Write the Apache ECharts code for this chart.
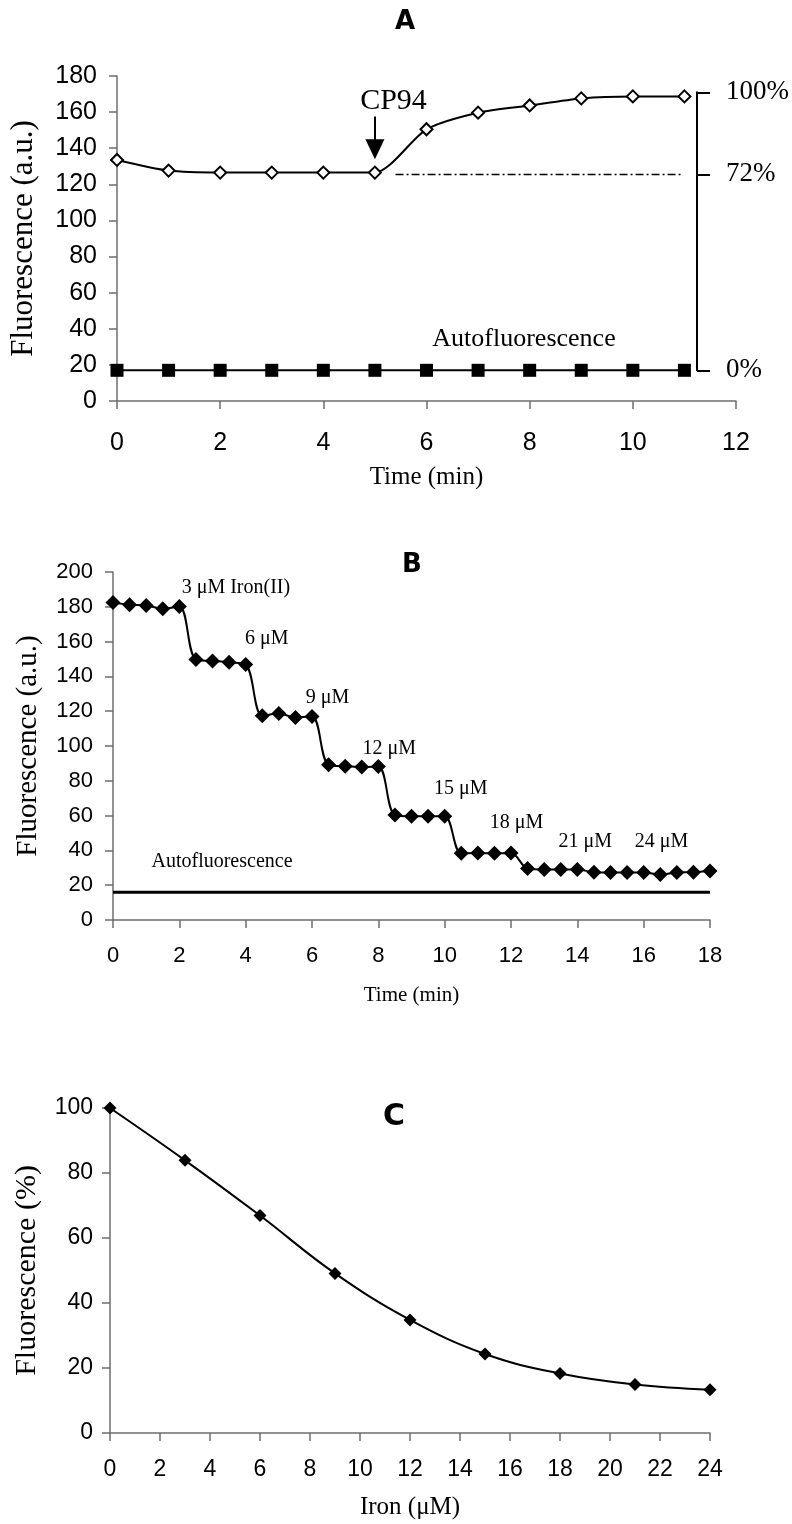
<!DOCTYPE html>
<html>
<head>
<meta charset="utf-8">
<script src="https://cdn.jsdelivr.net/npm/echarts@6/dist/echarts.min.js"></script>
<style>
html,body{margin:0;padding:0;background:#fff;}
#c{width:792px;height:1524px;}
</style>
</head>
<body>
<div id="c"></div>
<script>
// ---------- Panel A ----------
const A_time = [0, 1, 2, 3, 4, 5, 6, 7, 8, 9, 10, 11];
const A_probe = [133.5, 127.6, 126.5, 126.5, 126.5, 126.5, 150.5, 159.7, 163.7, 167.6, 168.7, 168.7];
const A_auto = [17, 17, 17, 17, 17, 17, 17, 17, 17, 17, 17, 17];
const A_dashX = [5.4, 10.95];
const A_dashY = 125.5;
const A_bracketValues = [17, 125.5, 171];
const A_bracketLabels = ['0%', '72%', '100%'];
const A_arrow = { x: 5, from: 157.6, to: 139.5 };
const A_notes = [
  { x: 5.36, y: 166, text: 'CP94', size: 30 },
  { x: 7.89, y: 34, text: 'Autofluorescence', size: 26 }
];
const A_xTicks = [0, 12, 2];
const A_yTicks = [0, 180, 20];

// ---------- Panel B ----------
const B_time = [0, 0.5, 1, 1.5, 2, 2.5, 3, 3.5, 4, 4.5, 5, 5.5, 6, 6.5, 7, 7.5, 8, 8.5, 9, 9.5, 10,
  10.5, 11, 11.5, 12, 12.5, 13, 13.5, 14, 14.5, 15, 15.5, 16, 16.5, 17, 17.5, 18];
const B_fluor = [182.4, 181.2, 180.8, 178.9, 180.2, 149.7, 148.9, 148.1, 146.8, 117.4, 118.7, 116.4, 117.0,
  89.2, 88.4, 88.0, 88.2, 60.3, 59.6, 59.6, 59.6, 38.3, 38.5, 38.3, 38.5, 29.6, 29.0, 29.0, 29.0,
  27.5, 27.3, 27.3, 27.3, 26.2, 27.3, 27.5, 28.1];
const B_autoX = [0, 18];
const B_autoY = 16;
const B_notes = [
  { x: 2.07, y: 190.8, text: '3 μM Iron(II)' },
  { x: 3.98, y: 161.7, text: '6 μM' },
  { x: 5.81, y: 127.7, text: '9 μM' },
  { x: 7.52, y: 98.2, text: '12 μM' },
  { x: 9.68, y: 75.2, text: '15 μM' },
  { x: 11.36, y: 55.9, text: '18 μM' },
  { x: 13.43, y: 44.8, text: '21 μM' },
  { x: 15.73, y: 44.8, text: '24 μM' },
  { x: 1.16, y: 33.3, text: 'Autofluorescence' }
];
const B_xTicks = [0, 18, 2];
const B_yTicks = [0, 200, 20];

// ---------- Panel C ----------
const C_iron = [0, 3, 6, 9, 12, 15, 18, 21, 24];
const C_percent = [100, 83.9, 66.9, 49.1, 34.8, 24.3, 18.3, 14.9, 13.3];
const C_xTicks = [0, 24, 2];
const C_yTicks = [0, 100, 20];

const panelTitles = ['A', 'B', 'C'];

// ---------- layout ----------
const gA = { left: 111, right: 56, top: 76, height: 325 };
const gB = { left: 113, right: 82, top: 572, height: 348 };
const gC = { left: 110, right: 82, top: 1108, height: 325 };
const yOfA = v => gA.top + (A_yTicks[1] - v) / (A_yTicks[1] - A_yTicks[0]) * gA.height;
const bTop = yOfA(A_bracketValues[2]);
const bBot = yOfA(A_bracketValues[0]);
const gBr = { left: 111, right: 93, top: bTop, height: bBot - bTop };

const SERIF = '"Liberation Serif", "Times New Roman", serif';
const SANS = '"Liberation Sans", Arial, sans-serif';
const AX = '#6e6e6e';

function xAxisCfg(gi, t, name, labSize, labMargin, nameSize, nameGap) {
  return {
    gridIndex: gi, type: 'value', min: t[0], max: t[1], interval: t[2],
    name: name, nameLocation: 'middle', nameGap: nameGap,
    nameTextStyle: { fontFamily: SERIF, fontSize: nameSize, color: '#000' },
    axisLine: { show: true, onZero: false, lineStyle: { color: AX, width: 1.5 } },
    axisTick: { show: true, length: 8, lineStyle: { color: AX, width: 1.5 } },
    axisLabel: { fontFamily: SANS, fontSize: labSize, color: '#000', margin: labMargin },
    splitLine: { show: false }
  };
}
function yAxisCfg(gi, t, name, labSize, labMargin, nameSize, nameGap) {
  return {
    gridIndex: gi, type: 'value', min: t[0], max: t[1], interval: t[2],
    name: name, nameLocation: 'middle', nameGap: nameGap, nameRotate: 90,
    nameTextStyle: { fontFamily: SERIF, fontSize: nameSize, color: '#000' },
    axisLine: { show: true, onZero: false, lineStyle: { color: AX, width: 1.5 } },
    axisTick: { show: true, length: 8, lineStyle: { color: AX, width: 1.5 } },
    axisLabel: { fontFamily: SANS, fontSize: labSize, color: '#000', margin: labMargin },
    splitLine: { show: false }
  };
}

function noteSeries(xi, yi, notes, pos, defSize) {
  return {
    type: 'scatter', xAxisIndex: xi, yAxisIndex: yi, symbolSize: 0, silent: true,
    itemStyle: { opacity: 1 },
    data: notes.map(n => ({
      value: [n.x, n.y],
      label: {
        show: true, formatter: n.text, position: pos, distance: 0,
        fontFamily: SERIF, fontSize: n.size || defSize, color: '#000'
      }
    }))
  };
}

const titleStyle = size => ({ fontFamily: '"DejaVu Sans", sans-serif', fontWeight: 'bold', fontSize: size, color: '#000' });

const chart = echarts.init(document.getElementById('c'), null, { renderer: 'canvas' });
chart.setOption({
  animation: false,
  backgroundColor: '#fff',
  title: [
    { text: panelTitles[0], left: 400, top: 4, textAlign: 'center', textStyle: titleStyle(26) },
    { text: panelTitles[1], left: 407, top: 547, textAlign: 'center', textStyle: titleStyle(26) },
    { text: panelTitles[2], left: 389, top: 1097, textAlign: 'center', textStyle: titleStyle(30) }
  ],
  grid: [
    Object.assign({ containLabel: false }, gA),
    Object.assign({ containLabel: false }, gB),
    Object.assign({ containLabel: false }, gC),
    Object.assign({ containLabel: false }, gBr)
  ],
  xAxis: [
    xAxisCfg(0, A_xTicks, 'Time (min)', 25, 30, 25, 64),
    xAxisCfg(1, B_xTicks, 'Time (min)', 22, 25, 21, 65),
    xAxisCfg(2, C_xTicks, 'Iron (μM)', 23, 25, 25, 62),
    { gridIndex: 3, type: 'value', min: 0, max: 1, show: false }
  ],
  yAxis: [
    yAxisCfg(0, A_yTicks, 'Fluorescence (a.u.)', 25, 20, 31, 78),
    yAxisCfg(1, B_yTicks, 'Fluorescence (a.u.)', 22, 20, 29, 70),
    yAxisCfg(2, C_yTicks, 'Fluorescence (%)', 23, 17, 30, 68),
    {
      gridIndex: 3, type: 'value', position: 'right',
      min: A_bracketValues[0], max: A_bracketValues[2],
      axisLine: { show: true, onZero: false, lineStyle: { color: '#000', width: 2 } },
      axisTick: { show: true, inside: false, length: 13, customValues: A_bracketValues,
        lineStyle: { color: '#000', width: 2 } },
      axisLabel: {
        show: true, customValues: A_bracketValues, margin: 29,
        fontFamily: SERIF, fontSize: 27, color: '#000',
        formatter: v => A_bracketLabels[A_bracketValues.indexOf(v)]
      },
      splitLine: { show: false }
    }
  ],
  series: [
    // Panel A
    {
      type: 'line', xAxisIndex: 0, yAxisIndex: 0, smooth: 0.25,
      data: A_time.map((t, i) => [t, A_probe[i]]),
      symbol: 'diamond', symbolSize: 12, showAllSymbol: true,
      lineStyle: { color: '#000', width: 2 },
      itemStyle: { color: '#fff', borderColor: '#000', borderWidth: 2 },
      z: 5,
      markLine: {
        silent: true, symbol: ['none', 'triangle'], symbolSize: [19, 20],
        label: { show: false },
        lineStyle: { color: '#000', width: 2, type: 'solid' },
        data: [[{ coord: [A_arrow.x, A_arrow.from] }, { coord: [A_arrow.x, A_arrow.to] }]]
      }
    },
    {
      type: 'line', xAxisIndex: 0, yAxisIndex: 0,
      data: A_time.map((t, i) => [t, A_auto[i]]),
      symbol: 'rect', symbolSize: 13, showAllSymbol: true,
      lineStyle: { color: '#000', width: 2 },
      itemStyle: { color: '#000' }
    },
    {
      type: 'line', xAxisIndex: 0, yAxisIndex: 0, symbol: 'none',
      data: A_dashX.map(x => [x, A_dashY]),
      lineStyle: { color: '#000', width: 1.5, type: [8, 3, 2, 3] }
    },
    noteSeries(0, 0, A_notes, 'inside', 26),
    // Panel B
    {
      type: 'line', xAxisIndex: 1, yAxisIndex: 1, symbol: 'none',
      data: B_autoX.map(x => [x, B_autoY]),
      lineStyle: { color: '#000', width: 3 }
    },
    {
      type: 'line', xAxisIndex: 1, yAxisIndex: 1, smooth: 0.35,
      data: B_time.map((t, i) => [t, B_fluor[i]]),
      symbol: 'diamond', symbolSize: 15, showAllSymbol: true,
      lineStyle: { color: '#000', width: 2 },
      itemStyle: { color: '#000' }
    },
    noteSeries(1, 1, B_notes, 'right', 20),
    // Panel C
    {
      type: 'line', xAxisIndex: 2, yAxisIndex: 2, smooth: 0.4,
      data: C_iron.map((x, i) => [x, C_percent[i]]),
      symbol: 'diamond', symbolSize: 13, showAllSymbol: true,
      lineStyle: { color: '#000', width: 2 },
      itemStyle: { color: '#000' }
    }
  ]
});
</script>
</body>
</html>
